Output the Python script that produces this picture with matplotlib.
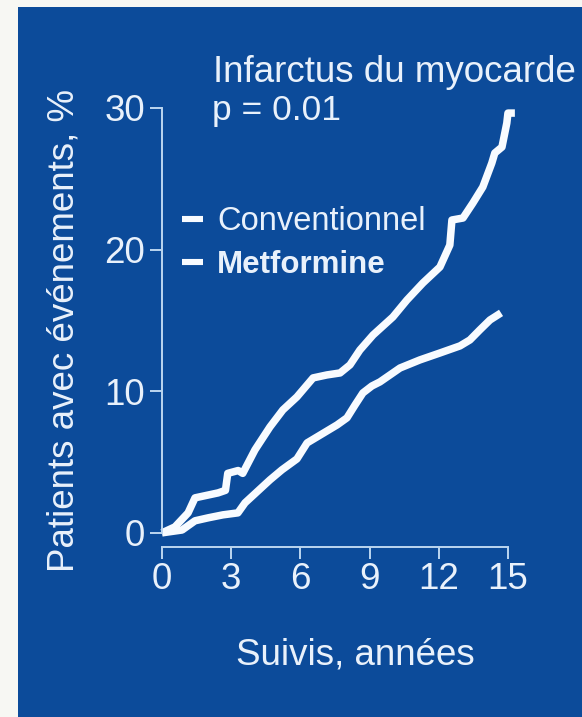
import matplotlib
matplotlib.use("Agg")
import matplotlib.pyplot as plt
from matplotlib.patches import Rectangle

plt.rcParams['font.family'] = ['Liberation Sans', 'DejaVu Sans']

# cumulative incidence curves (years, % of patients)
conv_years = [0, 0.56, 1.13, 1.43, 2.43, 2.75, 2.85, 3.3, 3.5, 4.03, 4.68, 5.24, 5.85,
              6.55, 7.15, 7.72, 8.15, 8.58, 9.15, 10.01, 10.62, 11.31, 12.05, 12.48,
              12.57, 13.05, 13.48, 13.91, 14.30, 14.43, 14.74, 14.95, 15.0, 15.3]
conv_pct = [0, 0.42, 1.41, 2.47, 2.82, 3.0, 4.2, 4.4, 4.2, 5.86, 7.48, 8.68, 9.60,
            10.94, 11.15, 11.29, 11.86, 12.91, 13.97, 15.24, 16.44, 17.64, 18.77, 20.32,
            22.09, 22.23, 23.29, 24.42, 26.11, 26.82, 27.24, 28.93, 29.64, 29.64]

metf_years = [0, 0.87, 1.43, 2.0, 2.64, 3.29, 3.60, 4.16, 4.68, 5.20, 5.85, 6.29, 6.72,
              7.59, 8.02, 8.37, 8.71, 9.10, 9.45, 10.32, 11.18, 12.05, 12.92, 13.35,
              13.78, 14.22, 14.7]
metf_pct = [0, 0.2, 0.85, 1.06, 1.27, 1.41, 2.12, 2.96, 3.74, 4.45, 5.22, 6.35, 6.77,
            7.62, 8.12, 9.03, 9.88, 10.37, 10.66, 11.64, 12.21, 12.70, 13.20, 13.62,
            14.33, 15.03, 15.53]

x_ticks = [0, 3, 6, 9, 12, 15]
y_ticks = [0, 10, 20, 30]

bg = '#0c4b9a'
fg = '#e9f1fb'
axis_col = '#bcd6f0'

fig = plt.figure(figsize=(5.82, 7.17), dpi=100, facecolor='#f7f7f3')
panel = Rectangle((18 / 582, 0), 1, 1 - 7 / 717, transform=fig.transFigure,
                  facecolor=bg, edgecolor='none', zorder=-10)
fig.add_artist(panel)

ax = fig.add_axes([0.2784, 0.2371, 0.634, 0.6123])
ax.set_facecolor('none')
ax.set_zorder(5)

lc, = ax.plot(conv_years, conv_pct, color='#f8fbff', lw=5.4, solid_capstyle='butt',
              solid_joinstyle='round', clip_on=False, label='Conventionnel')
lm, = ax.plot(metf_years, metf_pct, color='#f8fbff', lw=5.4, solid_capstyle='butt',
              solid_joinstyle='round', clip_on=False, label='Metformine')

ax.set_xlim(0, 16)
ax.set_ylim(-1, 30)
ax.set_xticks(x_ticks)
ax.set_yticks(y_ticks)

for s in ['top', 'right']:
    ax.spines[s].set_visible(False)
ax.spines['left'].set_bounds(0, 30)
ax.spines['bottom'].set_bounds(0, 15)
for s in ['left', 'bottom']:
    ax.spines[s].set_color(axis_col)
    ax.spines[s].set_linewidth(1.4)

ax.tick_params(axis='both', colors=axis_col, length=8.5, width=1.4, labelcolor=fg)
ax.tick_params(axis='x', labelsize=26.5, pad=2)
ax.tick_params(axis='y', labelsize=26.5, pad=3.5)

ax.set_xlabel('Suivis, années', fontsize=26.5, color=fg, va='center')
ax.xaxis.set_label_coords(0.523, -0.246)
ax.set_ylabel('Patients avec événements, %', fontsize=26.5, color=fg, va='center')
ax.yaxis.set_label_coords(-0.2656, 0.494)

fig.text(213 / 582, 1 - 82 / 717, 'Infarctus du myocarde', fontsize=26.5, color=fg,
         va='baseline', ha='left')
fig.text(212 / 582, 1 - 120 / 717, 'p = 0.01', fontsize=25.5, color=fg,
         va='baseline', ha='left')

leg = ax.legend(handles=[lc, lm], loc='upper left',
                bbox_to_anchor=(182 / 582, 1 - 206 / 717), bbox_transform=fig.transFigure,
                frameon=False, fontsize=23.5, handlelength=0.65, handletextpad=0.43,
                labelspacing=0.4, borderpad=0, borderaxespad=0, labelcolor=fg)
for h in leg.legend_handles:
    h.set_linewidth(4.4)
leg.get_texts()[1].set_fontweight('bold')
leg.get_texts()[1].set_fontsize(22.5)

fig.savefig('out.png', dpi=100, facecolor=fig.get_facecolor())
